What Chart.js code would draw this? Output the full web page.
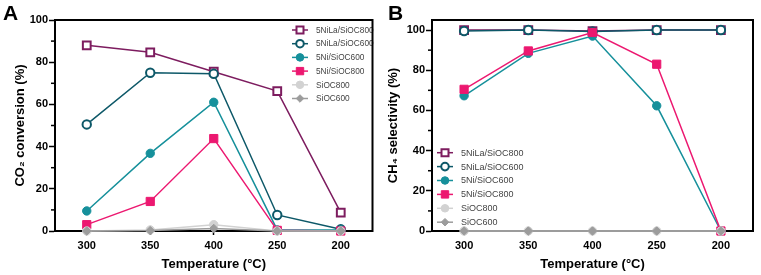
<!DOCTYPE html>
<html>
<head>
<meta charset="utf-8">
<script src="https://cdn.jsdelivr.net/npm/chart.js@4"></script>
<style>
  body { margin: 0; background: #fff; width: 761px; height: 275px; position: relative; overflow: hidden; }
  canvas { position: absolute; top: 0; }
  #graficoA { left: 0; }
  #graficoB { left: 380px; }
</style>
</head>
<body>
<canvas id="graficoA" width="380" height="275"></canvas>
<canvas id="graficoB" width="381" height="275"></canvas>
<script>
const temperaturas = ['300', '350', '400', '250', '200'];
const nomesSeries = ['5NiLa/SiOC800', '5NiLa/SiOC600', '5Ni/SiOC600', '5Ni/SiOC800', 'SiOC800', 'SiOC600'];

// A - CO2 conversion (%)
const conversaoNiLa800 = [88, 84.7, 75.5, 66.3, 8.7];
const conversaoNiLa600 = [50.5, 75, 74.5, 7.6, 0.8];
const conversaoNi600 = [9.5, 36.8, 61, 0.5, 0.5];
const conversaoNi800 = [3, 14, 43.8, 0.3, 0];
const conversaoSiOC800 = [0, 0.5, 3, 0, 0];
const conversaoSiOC600 = [0, 0.2, 1.2, 0, 0];

// B - CH4 selectivity (%)
const seletividadeNiLa800 = [100, 100, 99.5, 100, 100];
const seletividadeNiLa600 = [99.5, 100, 99.3, 100, 100];
const seletividadeNi600 = [67.3, 88.4, 97, 62.3, 0];
const seletividadeNi800 = [70.5, 89.6, 98.8, 83, 0];
const seletividadeSiOC800 = [0, 0, 0, 0, 0];
const seletividadeSiOC600 = [0, 0, 0, 0, 0];

const estilos = [
    { cor: '#7d1c5f', fundo: '#ffffff', forma: 'rect', raio: 5.5, borda: 2 },
    { cor: '#0d5868', fundo: '#ffffff', forma: 'circle', raio: 4.2, borda: 2 },
    { cor: '#16909b', fundo: '#16909b', forma: 'circle', raio: 4.2, borda: 1 },
    { cor: '#ec1870', fundo: '#ec1870', forma: 'rect', raio: 5.8, borda: 1 },
    { cor: '#d2d2d2', fundo: '#d2d2d2', forma: 'circle', raio: 4.2, borda: 1 },
    { cor: '#9c9c9c', fundo: '#9c9c9c', forma: 'rectRot', raio: 4.2, borda: 1 },
];

function montarDatasets(series) {
    return series.map((valores, i) => ({
        label: nomesSeries[i],
        data: valores,
        borderColor: estilos[i].cor,
        borderWidth: 1.5,
        pointStyle: estilos[i].forma,
        pointRadius: estilos[i].raio,
        pointBackgroundColor: estilos[i].fundo,
        pointBorderColor: estilos[i].cor,
        pointBorderWidth: estilos[i].borda,
        order: series.length - i,
        clip: false,
    }));
}

const legendaLinha = {
    id: 'legendaLinha',
    afterDraw(chart, args, opts) {
        const ctx = chart.ctx;
        ctx.save();
        chart.data.datasets.forEach((ds, i) => {
            const y = opts.y + i * opts.espaco;
            ctx.strokeStyle = ds.borderColor;
            ctx.lineWidth = 1.5;
            ctx.beginPath();
            ctx.moveTo(opts.x - 8, y);
            ctx.lineTo(opts.x + 8, y);
            ctx.stroke();
            ctx.fillStyle = ds.pointBackgroundColor;
            ctx.strokeStyle = ds.pointBorderColor;
            ctx.lineWidth = ds.pointBorderWidth;
            Chart.helpers.drawPoint(ctx, {
                pointStyle: ds.pointStyle, radius: ds.pointRadius * 0.9, rotation: 0, borderWidth: ds.pointBorderWidth
            }, opts.x, y);
            ctx.fillStyle = '#444';
            ctx.font = opts.fonte + 'px "Liberation Sans", Arial, sans-serif';
            ctx.textBaseline = 'middle';
            ctx.textAlign = 'left';
            ctx.fillText(ds.label, opts.x + 16, y + 0.5);
        });
        ctx.restore();
    }
};

const moldura = {
    id: 'moldura',
    afterDraw(chart, args, opts) {
        const ctx = chart.ctx;
        const area = chart.chartArea;
        const eixoY = chart.scales.y;
        ctx.save();
        ctx.strokeStyle = '#000';
        ctx.lineWidth = 2;
        ctx.beginPath();
        ctx.moveTo(area.left - 1, area.top);
        ctx.lineTo(area.right, area.top);
        ctx.lineTo(area.right, area.bottom + 1);
        ctx.stroke();
        // ticks menores
        ctx.lineWidth = 1.5;
        for (let v = 10; v < 100; v += 20) {
            const py = eixoY.getPixelForValue(v);
            ctx.beginPath();
            ctx.moveTo(area.left - 4, py);
            ctx.lineTo(area.left, py);
            ctx.stroke();
        }
        // letra do painel
        ctx.fillStyle = '#000';
        ctx.font = 'bold 21px "Liberation Sans", Arial, sans-serif';
        ctx.textBaseline = 'alphabetic';
        ctx.textAlign = 'left';
        ctx.fillText(opts.letra, opts.lx, 20);
        ctx.restore();
    }
};

function renderizarGrafico(id, series, opcoes) {
    const contexto = document.getElementById(id).getContext('2d');
    return new Chart(contexto, {
        type: 'line',
        data: {
            labels: temperaturas,
            datasets: montarDatasets(series),
        },
        options: {
            responsive: false,
            animation: false,
            layout: { padding: { top: 20, right: opcoes.direita, left: 0, bottom: 0 } },
            plugins: {
                legend: { display: false },
                tooltip: { enabled: false },
                legendaLinha: opcoes.legenda,
                moldura: { letra: opcoes.letra, lx: opcoes.lx },
            },
            scales: {
                x: {
                    offset: true,
                    grid: { display: true, offset: false, drawOnChartArea: false, tickLength: 4, tickColor: '#000', tickWidth: 1.5 },
                    border: { color: '#000', width: 2 },
                    ticks: { color: '#000', padding: 4, font: { family: '"Liberation Sans", Arial', size: 11, weight: 'bold' } },
                    title: {
                        display: true,
                        text: 'Temperature (°C)',
                        color: '#000',
                        font: { family: '"Liberation Sans", Arial', size: 13, weight: 'bold' },
                        padding: { top: 0, bottom: 3 },
                    },
                    afterFit(escala) { escala.height = 44; },
                },
                y: {
                    min: 0,
                    max: opcoes.maxY,
                    grid: {
                        drawOnChartArea: false, tickLength: 6, tickWidth: 1.5,
                        tickColor: c => (c.tick && c.tick.value % 20 === 0) ? '#000' : 'rgba(0,0,0,0)',
                    },
                    border: { color: '#000', width: 2 },
                    ticks: {
                        stepSize: 10,
                        includeBounds: false,
                        padding: 1,
                        color: '#000',
                        font: { family: '"Liberation Sans", Arial', size: 11, weight: 'bold' },
                        callback: v => (v % 20 === 0 ? v : ''),
                    },
                    title: {
                        display: true,
                        text: opcoes.tituloY,
                        color: '#000',
                        font: { family: '"Liberation Sans", Arial', size: 13, weight: 'bold' },
                        padding: { top: opcoes.padTitulo, bottom: 0 },
                    },
                    afterFit(escala) { escala.width = opcoes.larguraY; },
                },
            },
        },
        plugins: [legendaLinha, moldura],
    });
}

renderizarGrafico('graficoA',
    [conversaoNiLa800, conversaoNiLa600, conversaoNi600, conversaoNi800, conversaoSiOC800, conversaoSiOC600],
    { maxY: 100, tituloY: 'CO₂ conversion (%)', larguraY: 55, padTitulo: 13, direita: 2,
      legenda: { x: 300, y: 30, espaco: 13.7, fonte: 8.3 }, letra: 'A', lx: 3 });

renderizarGrafico('graficoB',
    [seletividadeNiLa800, seletividadeNiLa600, seletividadeNi600, seletividadeNi800, seletividadeSiOC800, seletividadeSiOC600],
    { maxY: 105, tituloY: 'CH₄ selectivity (%)', larguraY: 52, padTitulo: 6, direita: 8,
      legenda: { x: 65, y: 152.7, espaco: 13.9, fonte: 9 }, letra: 'B', lx: 8 });
</script>
</body>
</html>
